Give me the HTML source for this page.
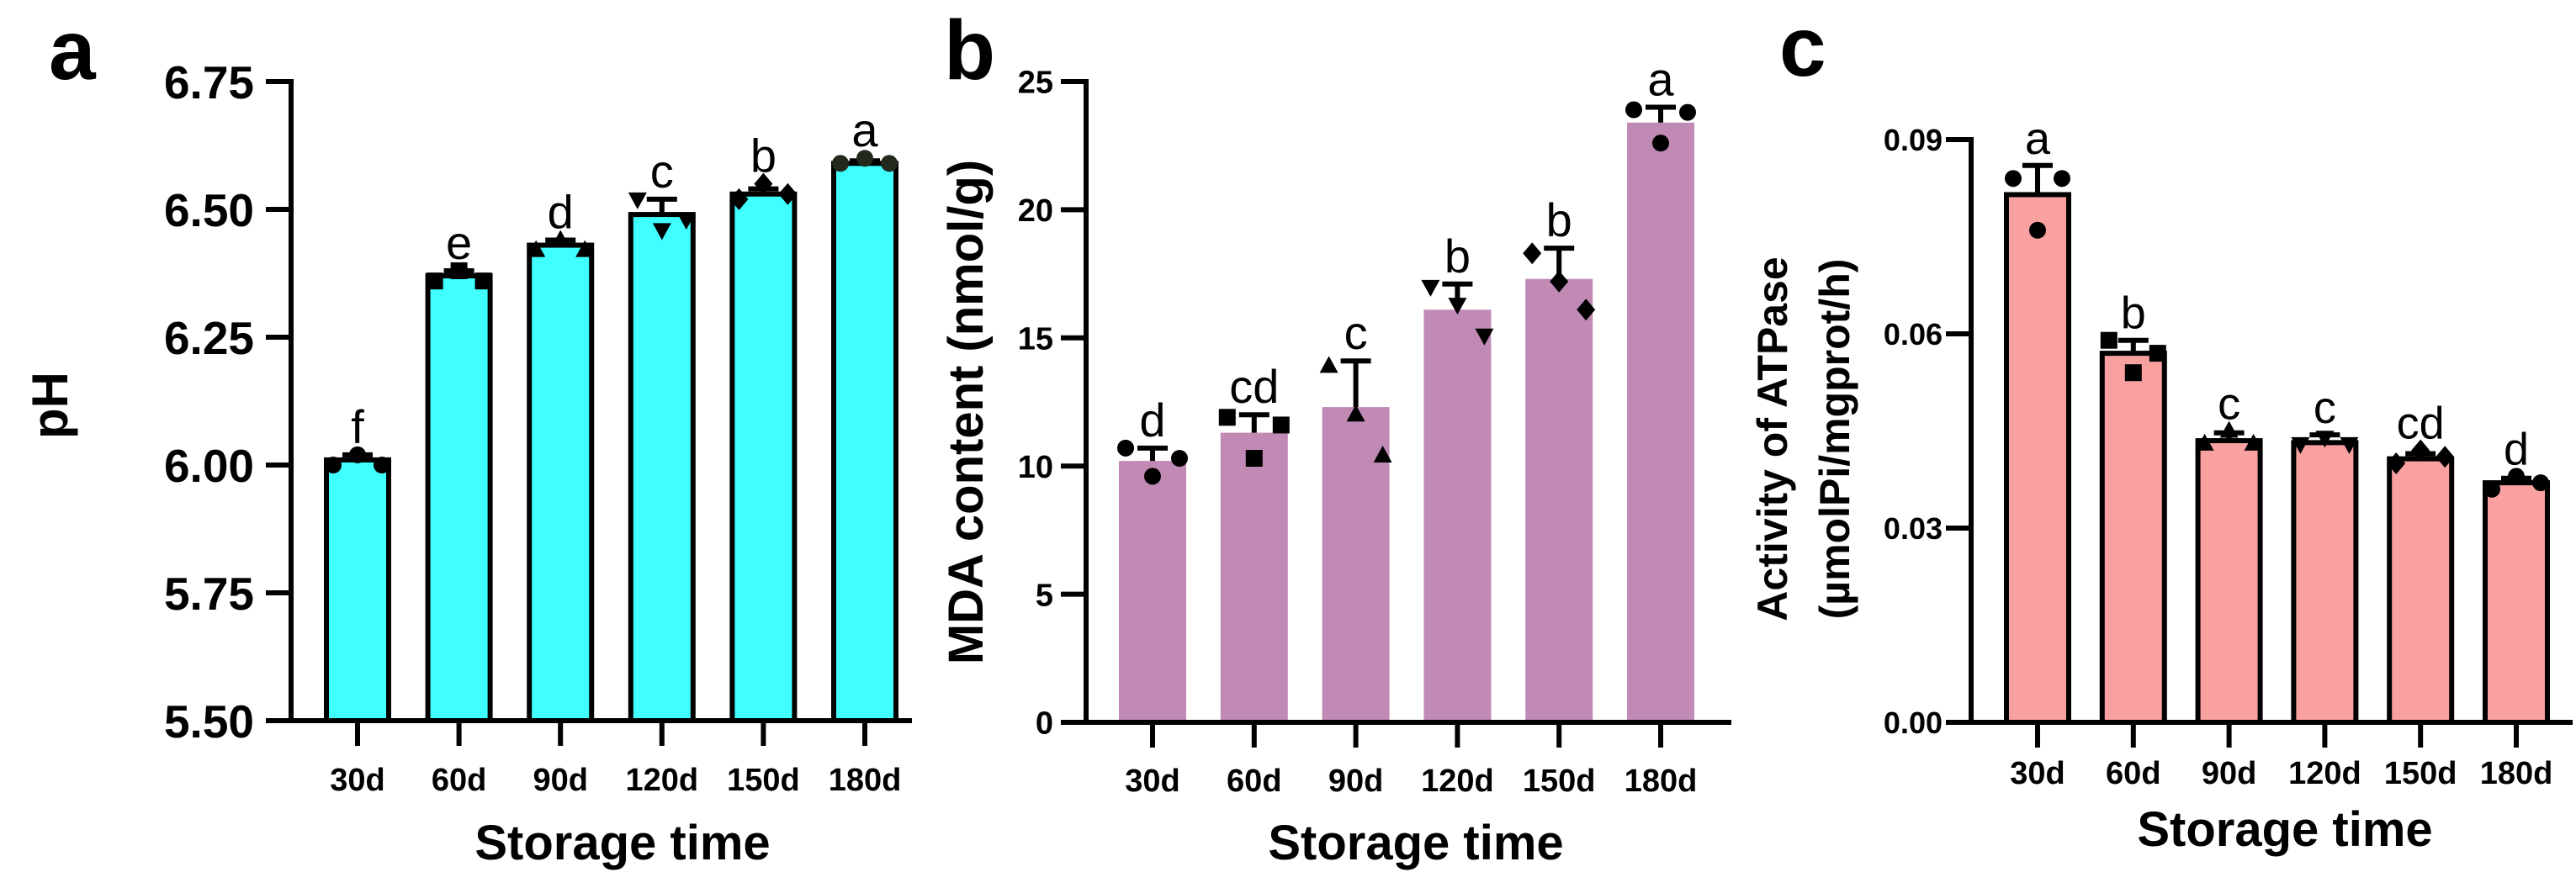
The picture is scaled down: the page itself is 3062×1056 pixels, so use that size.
<!DOCTYPE html>
<html><head><meta charset="utf-8"><style>
html,body{margin:0;padding:0;background:#fff}
svg{display:block}
text{font-family:"Liberation Sans",Arial,sans-serif}
</style></head><body>
<svg id="fig" width="3062" height="1056" viewBox="0 0 3062 1056" xmlns="http://www.w3.org/2000/svg"></svg>
<script>
const categories = ["30d","60d","90d","120d","150d","180d"];
const markers = ["circle","square","tri-up","tri-down","diamond","circle"];
// Panel a: pH
const phMeans = [6.01,6.37,6.43,6.49,6.53,6.59];
const phSd = [0.01,0.01,0.01,0.03,0.01,0.005];
const phPoints = [[6.00,6.02,6.00],[6.36,6.38,6.36],[6.42,6.44,6.42],[6.52,6.46,6.48],[6.52,6.55,6.53],[6.59,6.60,6.59]];
const phLetters = ["f","e","d","c","b","a"];
const phTicks = ["5.50","5.75","6.00","6.25","6.50","6.75"];
// Panel b: MDA
const mdaMeans = [10.2,11.3,12.3,16.1,17.3,23.4];
const mdaSd = [0.5,0.7,1.8,1.0,1.2,0.6];
const mdaPoints = [[10.7,9.6,10.3],[11.9,10.3,11.6],[13.9,12.0,10.4],[17.0,16.3,15.1],[18.3,17.2,16.1],[23.9,22.6,23.8]];
const mdaLetters = ["d","cd","c","b","b","a"];
const mdaTicks = ["0","5","10","15","20","25"];
// Panel c: ATPase
const atpMeans = [0.0815,0.057,0.0435,0.0432,0.0407,0.0370];
const atpSd = [0.0045,0.002,0.0012,0.0012,0.0008,0.0007];
const atpPoints = [[0.084,0.076,0.084],[0.059,0.054,0.057],[0.043,0.045,0.043],[0.043,0.044,0.043],[0.040,0.042,0.041],[0.036,0.038,0.037]];
const atpLetters = ["a","b","c","c","cd","d"];
const atpTicks = ["0.00","0.03","0.06","0.09"];

const NS="http://www.w3.org/2000/svg";
const svg=document.getElementById('fig');
function mk(tag,attrs,parent){const e=document.createElementNS(NS,tag);for(const k in attrs)e.setAttribute(k,attrs[k]);(parent||svg).appendChild(e);return e;}
function txt(s,attrs,parent){const e=mk('text',attrs,parent);e.textContent=s;return e;}

function marker(g,type,cx,cy,r,fill){
  let e;
  if(type==="circle") e=mk('circle',{cx:cx,cy:cy,r:r,fill:fill},g);
  else if(type==="square") e=mk('rect',{x:cx-r,y:cy-r,width:2*r,height:2*r,fill:fill},g);
  else if(type==="tri-up") e=mk('polygon',{points:`${cx},${cy-r*1.2} ${cx-r*1.1},${cy+r*0.8} ${cx+r*1.1},${cy+r*0.8}`,fill:fill},g);
  else if(type==="tri-down") e=mk('polygon',{points:`${cx},${cy+r*1.2} ${cx-r*1.1},${cy-r*0.8} ${cx+r*1.1},${cy-r*0.8}`,fill:fill},g);
  else e=mk('polygon',{points:`${cx},${cy-r*1.3} ${cx+r*1.1},${cy} ${cx},${cy+r*1.3} ${cx-r*1.1},${cy}`,fill:fill},g);
  return e;
}

function panel(o){
  const g=mk('g',{});
  
  
  const y=v=>o.y0+(v-o.vmin)/(o.vmax-o.vmin)*(o.y1-o.y0);
  const x=i=>o.cx0+i*o.step;
  o.means.forEach((m,i)=>{
    const b=mk('rect',{x:x(i)-o.bw/2,y:y(m),width:o.bw,height:o.y0-y(m),fill:o.color,stroke:o.outline?'#000':'none','stroke-width':o.outline?6:0},g);
    
    
    const top=y(m+o.sd[i]);
    const eb=mk('path',{d:`M${x(i)},${y(m)} V${top} M${x(i)-18},${top} H${x(i)+18}`,stroke:'#000','stroke-width':6,fill:'none'},g);
    
    
    const offs=[-o.bw/2+8,0,o.bw/2-8];
    o.points[i].forEach((p,j)=>{
      const pt=marker(g,markers[i],x(i)+offs[j],y(p),10,i===5&&o.name==='panel-a'?'#222a1e':'#000');
      
      
    });
    const lt=txt(o.letters[i],{x:x(i),y:Math.min(y(m+o.sd[i]),...o.points[i].map(y))-14,'font-size':o.letterSize,'text-anchor':'middle',fill:'#000'},g);
    
    
    mk('line',{x1:x(i),x2:x(i),y1:o.y0,y2:o.y0+30,stroke:'#000','stroke-width':6},g);
    const xl=txt(categories[i],{x:x(i),y:o.xlabY,'font-size':o.xtSize,'font-weight':'bold','text-anchor':'middle'},g);
    
    
  });
  const ax=mk('path',{d:`M${o.ax},${o.y1-3} V${o.y0} H${o.xend}`,stroke:'#000','stroke-width':6,fill:'none'},g);
  
  
  o.ticks.forEach(t=>{
    const v=parseFloat(t);
    mk('line',{x1:o.ax-30,x2:o.ax,y1:y(v),y2:y(v),stroke:'#000','stroke-width':6},g);
    const tl=txt(t,{x:o.tickRight,y:y(v)+o.ytSize*0.36,'font-size':o.ytSize,'font-weight':'bold','text-anchor':'end'},g);
    
    
  });
  const xt=txt('Storage time',{x:o.xtitleX,y:o.xtitleY,'font-size':58,'font-weight':'bold','text-anchor':'middle'},g);
  
  
  o.ytitle.forEach((s,k)=>{
    const yt=txt(s,{x:0,y:0,'font-size':o.ytitleSize,'font-weight':'bold','text-anchor':'middle',transform:`translate(${o.ytitleX[k]},${o.ytitleY}) rotate(-90)`},g);
    
    
  });
  const pl=txt(o.label,{x:o.labelX,y:o.labelY,'font-size':100,'font-weight':'bold'},g);
  
  
}

panel({name:'panel-a',means:phMeans,sd:phSd,points:phPoints,letters:phLetters,ticks:phTicks,
  vmin:5.5,vmax:6.75,y0:857,y1:97,ax:346,xend:1084,cx0:425,step:120.6,bw:74,color:'#40ffff',outline:true,
  letterSize:56,xtSize:38,ytSize:55,tickRight:302,xlabY:940,xtitleX:740,xtitleY:1022,
  ytitle:['pH'],ytitleX:[80],ytitleY:482,ytitleSize:60,label:'a',labelX:58,labelY:94});
panel({name:'panel-b',means:mdaMeans,sd:mdaSd,points:mdaPoints,letters:mdaLetters,ticks:mdaTicks,
  vmin:0,vmax:25,y0:859,y1:97,ax:1291,xend:2058,cx0:1370,step:120.8,bw:80,color:'#c08ab5',outline:false,
  letterSize:56,xtSize:38,ytSize:38,tickRight:1252,xlabY:941,xtitleX:1683,xtitleY:1022,
  ytitle:['MDA content (nmol/g)'],ytitleX:[1168],ytitleY:490,ytitleSize:58,label:'b',labelX:1122,labelY:94});
panel({name:'panel-c',means:atpMeans,sd:atpSd,points:atpPoints,letters:atpLetters,ticks:atpTicks,
  vmin:0,vmax:0.09,y0:859,y1:166,ax:2343,xend:3058,cx0:2422,step:113.8,bw:74,color:'#f9a0a0',outline:true,
  letterSize:54,xtSize:38,ytSize:36,tickRight:2309,xlabY:932,xtitleX:2716,xtitleY:1006,
  ytitle:['Activity of ATPase','(µmolPi/mgprot/h)'],ytitleX:[2124,2198],ytitleY:522,ytitleSize:50,label:'c',labelX:2115,labelY:90});
</script>
</body></html>
